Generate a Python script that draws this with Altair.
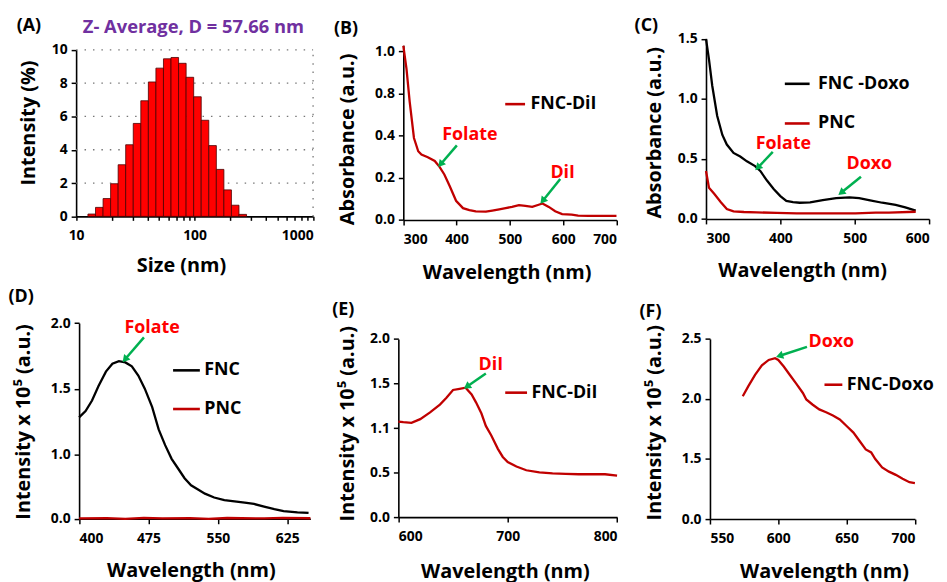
import altair as alt
import pandas as pd

FONT = "Open Sans"
DARKRED = "#C00000"
RED = "#FF0000"
GREEN = "#00B050"
PURPLE = "#7030A0"
CANVAS_W, CANVAS_H = 939, 574

# ---------------- Panel A : DLS size distribution ----------------
A_SIZE = [13.54, 15.69, 18.17, 21.04, 24.36, 28.21, 32.67, 37.84, 43.82, 50.75, 58.77,
          68.06, 78.82, 91.28, 105.7, 122.4, 141.8, 164.2, 190.1, 220.2, 255.0]
A_INT = [0.14, 0.54, 1.07, 1.96, 3.1, 4.3, 5.58, 6.94, 8.07, 8.9, 9.46,
         9.54, 9.19, 8.35, 7.18, 5.77, 4.25, 2.82, 1.59, 0.67, 0.12]
A_XTICKS = [10, 20, 30, 40, 50, 60, 70, 80, 90, 100, 200, 300, 400, 500, 600, 700, 800, 900, 1000]
A_YTICKS = [0, 2, 4, 6, 8, 10]
A_GRID = [2, 4, 6, 8, 10]
A_TITLE = "Z- Average, D = 57.66 nm"

# ---------------- Panel B : absorbance FNC-DiI ----------------
B_WL = [300, 306, 312, 320, 328, 334, 346, 359, 368, 377, 387, 399, 412, 424, 436, 455,
        467, 480, 492, 504, 517, 529, 542, 554, 561, 573, 585, 598, 616, 628, 647, 700]
B_ABS = [1.027, 0.917, 0.72, 0.389, 0.326, 0.31, 0.298, 0.28, 0.252, 0.216, 0.161, 0.091,
         0.056, 0.047, 0.041, 0.039, 0.044, 0.05, 0.056, 0.062, 0.07, 0.067, 0.062, 0.072,
         0.078, 0.062, 0.041, 0.028, 0.025, 0.02, 0.019, 0.019]
B_XTICKS = [300, 400, 500, 600, 700]
B_YTICKS = [0, 0.2, 0.4, 0.8, 1.0]
B_NOTE = ["Folate", "DiI"]
B_NOTE_X = [425, 599]
B_NOTE_Y = [0.41, 0.224]
B_AR_X1 = [400.5, 594.5]
B_AR_Y1 = [0.354, 0.194]
B_AR_X2 = [371.3, 562.9]
B_AR_Y2 = [0.268, 0.095]
B_AR_ANG = [220.6, 219.0]

# ---------------- Panel C : absorbance FNC-Doxo / PNC ----------------
C_WL_DOXO = [300, 304, 308.4, 315, 322, 328, 337, 346, 355, 366, 373, 382, 391, 400, 408,
             417, 426, 440, 457, 475, 493, 506, 519, 537, 555, 568, 582]
C_DOXO = [1.5, 1.33, 1.11, 0.86, 0.70, 0.62, 0.55, 0.52, 0.48, 0.44, 0.40, 0.32, 0.25, 0.19,
          0.15, 0.14, 0.135, 0.138, 0.157, 0.173, 0.18, 0.173, 0.157, 0.135, 0.118, 0.096, 0.069]
C_WL_PNC = [300, 304, 311, 320, 328, 337, 351, 368, 395, 422, 457, 501, 528, 546, 582]
C_PNC = [0.40, 0.26, 0.21, 0.14, 0.083, 0.063, 0.058, 0.055, 0.05, 0.047, 0.047, 0.047,
         0.052, 0.052, 0.06]
C_XTICKS = [300, 400, 500, 600]
C_YTICKS = [0, 0.5, 1.0, 1.5]
C_NOTE = ["Folate", "Doxo"]
C_NOTE_X = [404, 519.6]
C_NOTE_Y = [0.624, 0.454]
C_AR_X1 = [389.8, 508.4]
C_AR_Y1 = [0.558, 0.352]
C_AR_X2 = [370.7, 483.0]
C_AR_Y2 = [0.434, 0.225]
C_AR_ANG = [223.6, 231.2]

# ---------------- Panel D : fluorescence FNC / PNC ----------------
D_WL_FNC = [400, 407, 414, 421, 429, 436, 443, 450, 457, 464, 471, 479, 486, 493, 500, 507,
            514, 521, 529, 536, 546, 557, 568, 579, 589, 600, 611, 621, 636, 648]
D_FNC = [1.282, 1.33, 1.41, 1.52, 1.63, 1.69, 1.71, 1.70, 1.67, 1.60, 1.50, 1.36, 1.19, 1.07,
         0.93, 0.78, 0.63, 0.52, 0.45, 0.39, 0.33, 0.29, 0.27, 0.25, 0.23, 0.19, 0.15, 0.12,
         0.10, 0.09]
D_WL_PNC = [400, 430, 450, 470, 490, 520, 540, 560, 600, 620, 650]
D_PNC = [0.005, 0.01, 0.0, 0.015, 0.005, 0.01, 0.0, 0.012, 0.005, 0.015, 0.008]
D_XTICKS = [400, 475, 550, 625]
D_YTICKS = [0, 1.0, 1.5, 2.0]
D_NOTE = ["Folate"]
D_NOTE_X = [479]
D_NOTE_Y = [1.962]
D_AR_X1 = [470.1]
D_AR_Y1 = [1.891]
D_AR_X2 = [450.4]
D_AR_Y2 = [1.73]
D_AR_ANG = [220.7]

# ---------------- Panel E : fluorescence FNC-DiI ----------------
E_WL = [600, 604.5, 612, 620, 629, 638, 644, 650, 656, 661.5, 667, 671, 676, 680, 685, 691,
        695.5, 700, 708, 717, 729, 741, 753, 765, 777, 789, 800]
E_INT = [1.159, 1.153, 1.147, 1.18, 1.24, 1.31, 1.37, 1.44, 1.45, 1.46, 1.40, 1.33, 1.23,
         1.12, 1.00, 0.82, 0.71, 0.64, 0.58, 0.53, 0.50, 0.49, 0.485, 0.48, 0.48, 0.48, 0.465]
E_XTICKS = [600, 700, 800]
E_YTICKS = [0, 0.5, 1.1, 1.5, 2.0]
E_NOTE = ["DiI"]
E_NOTE_X = [684.6]
E_NOTE_Y = [1.71]
E_AR_X1 = [680.0]
E_AR_Y1 = [1.61]
E_AR_X2 = [663.5]
E_AR_Y2 = [1.476]
E_AR_ANG = [235.2]

# ---------------- Panel F : fluorescence FNC-Doxo ----------------
F_WL = [574, 578, 583, 588, 593, 597.7, 600, 604, 608.5, 613, 618, 620.5, 625, 630, 635, 640,
        645, 650, 655, 659.5, 664, 668, 671, 676, 681, 686, 691, 696, 700]
F_INT = [2.023, 2.105, 2.20, 2.28, 2.325, 2.34, 2.325, 2.27, 2.20, 2.13, 2.05, 1.996, 1.954,
         1.913, 1.89, 1.863, 1.83, 1.775, 1.72, 1.65, 1.58, 1.555, 1.50, 1.43, 1.395, 1.368,
         1.335, 1.307, 1.30]
F_XTICKS = [550, 600, 650, 700]
F_YTICKS = [1.0, 1.5, 2.0, 2.5]
F_NOTE = ["Doxo"]
F_NOTE_X = [638.8]
F_NOTE_Y = [2.472]
F_AR_X1 = [621.0]
F_AR_Y1 = [2.434]
F_AR_X2 = [601.7]
F_AR_Y2 = [2.362]
F_AR_ANG = [252.0]


# ---------------- helpers ----------------
def series_df(pairs):
    frames = []
    for name, xs, ys in pairs:
        frames.append(pd.DataFrame({"wl": xs, "val": ys, "series": name}))
    return pd.concat(frames, ignore_index=True)


def xax(values, axis_y, tx, ty, title="Wavelength (nm)", fmt="d", **kw):
    # bottom axis placed at canvas row axis_y
    return alt.Axis(title=title, values=values, format=fmt, orient="bottom",
                    offset=axis_y - CANVAS_H, titleX=tx, titleY=ty,
                    titleAlign="center", titleBaseline="middle", titleAngle=0, **kw)


def yax(values, axis_x, tx, ty, title, fmt=".1f", **kw):
    # left axis placed at canvas column axis_x
    return alt.Axis(title=title, values=values, format=fmt, orient="left",
                    offset=-axis_x, titleX=tx, titleY=ty,
                    titleAlign="center", titleBaseline="middle", titleAngle=270, **kw)


def tag(text, x, y, color="black", size=18, align="left"):
    return alt.Chart(pd.DataFrame({"t": [text]})).mark_text(
        text=text, font=FONT, fontWeight="bold", fontSize=size, color=color,
        align=align, baseline="middle").encode(x=alt.value(x), y=alt.value(y))


def notes(texts, xs, ys, xsc, ysc):
    df = pd.DataFrame({"t": texts, "x": xs, "y": ys})
    return alt.Chart(df).mark_text(font=FONT, fontWeight="bold", fontSize=18, color=RED,
                                   align="center", baseline="middle").encode(
        x=alt.X("x:Q", scale=xsc), y=alt.Y("y:Q", scale=ysc), text="t:N")


def arrows(x1, y1, x2, y2, ang, xsc, ysc):
    df = pd.DataFrame({"x1": x1, "y1": y1, "x2": x2, "y2": y2, "ang": ang})
    base = alt.Chart(df)
    shaft = base.mark_rule(color=GREEN, strokeWidth=2.5).encode(
        x=alt.X("x1:Q", scale=xsc), y=alt.Y("y1:Q", scale=ysc), x2="x2:Q", y2="y2:Q")
    head = base.mark_point(shape="triangle", filled=True, color=GREEN, size=70, opacity=1).encode(
        x=alt.X("x2:Q", scale=xsc), y=alt.Y("y2:Q", scale=ysc),
        angle=alt.Angle("ang:Q", scale=None))
    return [shaft, head]


def legend(lx, ly, sym_len, offset, rowpad=15):
    return alt.Legend(orient="none", legendX=lx, legendY=ly, title=None, symbolType="stroke",
                      symbolSize=sym_len * sym_len, symbolStrokeWidth=2.6, labelFont=FONT,
                      labelFontSize=18, labelFontWeight="bold", labelColor="black",
                      labelOffset=offset, rowPadding=rowpad, padding=0, labelLimit=300)


def line_panel(df, xsc, ysc, xaxis, yaxis, names, colors, leg, extra):
    line = alt.Chart(df).mark_line(strokeWidth=2.3).encode(
        x=alt.X("wl:Q", scale=xsc, axis=xaxis),
        y=alt.Y("val:Q", scale=ysc, axis=yaxis),
        color=alt.Color("series:N", scale=alt.Scale(domain=names, range=colors), legend=leg),
    )
    return alt.layer(line, *extra)


# ---------------- Panel A ----------------
xA = alt.Scale(type="log", domain=[10, 1000], range=[68.7, 307.7], nice=False)
yA = alt.Scale(domain=[0, 10], range=[207.7, 39.7], nice=False, zero=False)
dfA = pd.DataFrame({"size": A_SIZE, "intensity": A_INT})
barsA = alt.Chart(dfA).transform_calculate(
    lo="datum.size / 1.0762", hi="datum.size * 1.0762"
).mark_bar(color=RED, stroke="#4a0000", strokeWidth=0.8).encode(
    x=alt.X("lo:Q", scale=xA, axis=xax(
        A_XTICKS, 207.7, 174.5, 49.3, title="Size (nm)", fmt="d", tickSize=4, labelOverlap=False,
        labelExpr="datum.value == 10 || datum.value == 100 || datum.value == 1000 ? datum.label : ''",
        labelAlign={"condition": {"test": "datum.value == 1000", "value": "right"}, "value": "center"})),
    x2="hi:Q",
    y=alt.Y("intensity:Q", scale=yA, axis=yax(A_YTICKS, 68.7, -47.7, 113, "Intensity (%)", fmt="d")),
    y2=alt.datum(0),
)
gridH = alt.Chart(pd.DataFrame({"g": A_GRID, "x0": 10, "x1": 1000})).mark_rule(
    strokeDash=[1.5, 7], color="#777777", strokeWidth=1.3).encode(
    y=alt.Y("g:Q", scale=yA), x=alt.X("x0:Q", scale=xA), x2="x1:Q")
gridV = alt.Chart(pd.DataFrame({"g": [1000], "y0": 0, "y1": 10})).mark_rule(
    strokeDash=[1.5, 7], color="#777777", strokeWidth=1.3).encode(
    x=alt.X("g:Q", scale=xA), y=alt.Y("y0:Q", scale=yA), y2="y1:Q")
panelA = alt.layer(
    gridH, gridV, barsA,
    tag("(A)", 8.7, 16),
    tag(A_TITLE, 187, 17, color=PURPLE, size=18.5, align="center"),
)

# ---------------- Panel B ----------------
xB = alt.Scale(domain=[300, 700], range=[398.7, 613.7], nice=False, zero=False)
yB = alt.Scale(domain=[0, 0.4, 0.8, 1.03], range=[211.3, 126.3, 83.7, 35], nice=False, zero=False)
panelB = line_panel(
    series_df([("FNC-DiI", B_WL, B_ABS)]), xB, yB,
    xax(B_XTICKS, 211.3, 502.9, 53.2), yax(B_YTICKS, 398.7, -56.7, 129.5, "Absorbance (a.u.)"),
    ["FNC-DiI"], [DARKRED], legend(500, 83, 20, 4),
    [notes(B_NOTE, B_NOTE_X, B_NOTE_Y, xB, yB),
     *arrows(B_AR_X1, B_AR_Y1, B_AR_X2, B_AR_Y2, B_AR_ANG, xB, yB),
     tag("(B)", 328.7, 18.7)])

# ---------------- Panel C ----------------
xC = alt.Scale(domain=[300, 600], range=[704, 929], nice=False, zero=False)
yC = alt.Scale(domain=[0, 1.5], range=[210.3, 28.7], nice=False, zero=False)
panelC = line_panel(
    series_df([("FNC -Doxo", C_WL_DOXO, C_DOXO), ("PNC", C_WL_PNC, C_PNC)]), xC, yC,
    xax(C_XTICKS, 210.3, 801, 52.5), yax(C_YTICKS, 704, -52, 122.9, "Absorbance (a.u.)"),
    ["FNC -Doxo", "PNC"], ["black", DARKRED], legend(782, 60, 25, 7, rowpad=17),
    [notes(C_NOTE, C_NOTE_X, C_NOTE_Y, xC, yC),
     *arrows(C_AR_X1, C_AR_Y1, C_AR_X2, C_AR_Y2, C_AR_ANG, xC, yC),
     tag("(C)", 632, 16)])

# ---------------- Panel D ----------------
xD = alt.Scale(domain=[400, 650], range=[71.7, 305], nice=False, zero=False)
yD = alt.Scale(domain=[0, 1.0, 2.0], range=[512.7, 447.7, 315.3], nice=False, zero=False)
panelD = line_panel(
    series_df([("FNC", D_WL_FNC, D_FNC), ("PNC", D_WL_PNC, D_PNC)]), xD, yD,
    xax(D_XTICKS, 512.7, 184.5, 52.3),
    yax(D_YTICKS, 71.7, -55.6, 414.5, "Intensity x 10\u2075 (a.u.)"),
    ["FNC", "PNC"], ["black", DARKRED], legend(165, 348, 27, 3, rowpad=15),
    [notes(D_NOTE, D_NOTE_X, D_NOTE_Y, xD, yD),
     *arrows(D_AR_X1, D_AR_Y1, D_AR_X2, D_AR_Y2, D_AR_ANG, xD, yD),
     tag("(D)", 0.5, 289.5)])

# ---------------- Panel E ----------------
xE = alt.Scale(domain=[600, 800], range=[393.7, 614.3], nice=False, zero=False)
yE = alt.Scale(domain=[0, 0.5, 1.1, 1.5, 2.0], range=[511, 466, 421.3, 376, 331.3],
               nice=False, zero=False)
panelE = line_panel(
    series_df([("FNC-DiI", E_WL, E_INT)]), xE, yE,
    xax(E_XTICKS, 511, 501.2, 55),
    yax(E_YTICKS, 393.7, -51.7, 416.3, "Intensity x 10\u2075 (a.u.)"),
    ["FNC-DiI"], [DARKRED], legend(500, 373, 22, 3),
    [notes(E_NOTE, E_NOTE_X, E_NOTE_Y, xE, yE),
     *arrows(E_AR_X1, E_AR_Y1, E_AR_X2, E_AR_Y2, E_AR_ANG, xE, yE),
     tag("(E)", 327, 302.5)])

# ---------------- Panel F ----------------
xF = alt.Scale(domain=[550, 700], range=[708, 914.7], nice=False, zero=False)
yF = alt.Scale(domain=[1.0, 2.5], range=[513, 331.3], nice=False, zero=False)
panelF = line_panel(
    series_df([("FNC-Doxo", F_WL, F_INT)]), xF, yF,
    xax(F_XTICKS, 513, 823, 53),
    yax(F_YTICKS, 708, -56, 415.3, "Intensity x 10\u2075 (a.u.)",
        labelExpr="datum.value == 1 ? '0.0' : format(datum.value, '.1f')"),
    ["FNC-Doxo"], [DARKRED], legend(822, 367, 18, 3),
    [notes(F_NOTE, F_NOTE_X, F_NOTE_Y, xF, yF),
     *arrows(F_AR_X1, F_AR_Y1, F_AR_X2, F_AR_Y2, F_AR_ANG, xF, yF),
     tag("(F)", 637, 304.5)])

# ---------------- one canvas, six independent panels ----------------
chart = alt.layer(
    panelA, panelB, panelC, panelD, panelE, panelF
).resolve_scale(
    x="independent", y="independent", color="independent"
).resolve_axis(
    x="independent", y="independent"
).properties(
    width=CANVAS_W, height=CANVAS_H, padding=0,
    autosize=alt.AutoSizeParams(type="none"),
).configure_view(stroke=None).configure_axis(
    labelFont=FONT, labelFontSize=14, labelFontWeight="bold", labelColor="black",
    titleFont=FONT, titleFontSize=20, titleFontWeight="bold", titleColor="black",
    domainColor="black", domainWidth=1.6, tickColor="black", tickWidth=1.5, tickSize=5,
    grid=False
).configure_axisX(labelPadding=8).configure_axisY(labelPadding=4)

chart.save("out.html", embed_options={"renderer": "svg", "actions": False})
